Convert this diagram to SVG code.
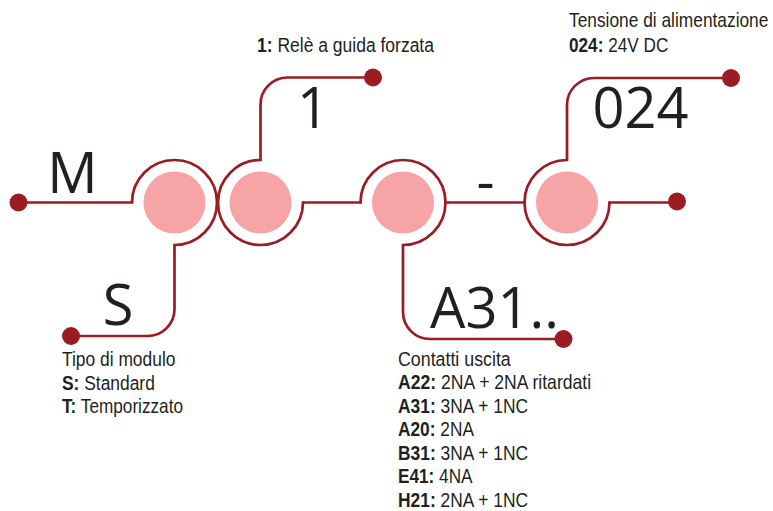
<svg xmlns="http://www.w3.org/2000/svg" width="773" height="511" viewBox="0 0 773 511">
<style>
.ln{fill:none;stroke:#9b1c23;stroke-width:2.7;stroke-linecap:round;stroke-linejoin:round}
.dot{fill:#9b1c23}
.pk{fill:#f7a4a6}
.big{font-family:"Open Sans","DejaVu Sans",sans-serif;font-size:56px;fill:#231f20}
.sm{font-family:"Liberation Sans",Arial,sans-serif;font-size:20px;fill:#231f20}
.b{font-weight:bold}
</style>
<rect width="773" height="511" fill="#ffffff"/>
<g id="connectors">
<path class="ln" d="M18.5 202.5H132"/>
<path class="ln" d="M174.5 245V309A27 27 0 0 1 147.5 336H71"/>
<path class="ln" d="M373 77.5H287.5A27 27 0 0 0 260.5 104.5V160"/>
<path class="ln" d="M303 202.5H360.5"/>
<path class="ln" d="M403 245V312A27 27 0 0 0 430 339H563.5"/>
<path class="ln" d="M445.5 202.5H524.5"/>
<path class="ln" d="M731 78H594A27 27 0 0 0 567 105V160"/>
<path class="ln" d="M609.5 202.5H677"/>
<circle class="dot" cx="18.5" cy="202.5" r="9"/>
<circle class="dot" cx="71" cy="336" r="9"/>
<circle class="dot" cx="373" cy="77.5" r="9"/>
<circle class="dot" cx="563.5" cy="339" r="9"/>
<circle class="dot" cx="677" cy="201.5" r="9"/>
<circle class="dot" cx="731" cy="78" r="9"/>
</g>
<g id="node-m">
<path class="ln" d="M132 202.5A42.5 42.5 0 1 1 174.5 245"/>
<circle class="pk" cx="174.5" cy="202.5" r="31"/>
<text class="big" x="72.5" y="193" text-anchor="middle">M</text>
<text class="big" x="118" y="325" text-anchor="middle">S</text>
<text class="sm" transform="translate(62 366) scale(0.87 1)">Tipo di modulo</text>
<text class="sm" transform="translate(62 389.6) scale(0.87 1)"><tspan class="b">S:</tspan> Standard</text>
<text class="sm" transform="translate(62 413.2) scale(0.86 1)"><tspan class="b">T:</tspan> Temporizzato</text>
</g>
<g id="node-1">
<path class="ln" d="M260.5 160A42.5 42.5 0 1 0 303 202.5"/>
<circle class="pk" cx="260.5" cy="202.5" r="31"/>
<text class="big" x="313" y="128" text-anchor="middle">1</text>
<text class="sm" transform="translate(257 51.7) scale(0.875 1)"><tspan class="b">1:</tspan> Relè a guida forzata</text>
</g>
<g id="node-a31">
<path class="ln" d="M360.5 202.5A42.5 42.5 0 1 1 403 245"/>
<circle class="pk" cx="403" cy="202.5" r="31"/>
<text class="big" x="430" y="328">A31..</text>
<text class="sm" transform="translate(398 366) scale(0.89 1)">Contatti uscita</text>
<text class="sm" transform="translate(398 389.4) scale(0.88 1)"><tspan class="b">A22:</tspan> 2NA + 2NA ritardati</text>
<text class="sm" transform="translate(398 412.8) scale(0.87 1)"><tspan class="b">A31:</tspan> 3NA + 1NC</text>
<text class="sm" transform="translate(398 436.2) scale(0.865 1)"><tspan class="b">A20:</tspan> 2NA</text>
<text class="sm" transform="translate(398 459.6) scale(0.87 1)"><tspan class="b">B31:</tspan> 3NA + 1NC</text>
<text class="sm" transform="translate(398 483) scale(0.86 1)"><tspan class="b">E41:</tspan> 4NA</text>
<text class="sm" transform="translate(398 506.5) scale(0.87 1)"><tspan class="b">H21:</tspan> 2NA + 1NC</text>
</g>
<text class="big" x="485.5" y="201" text-anchor="middle">-</text>
<g id="node-024">
<path class="ln" d="M567 160A42.5 42.5 0 1 0 609.5 202.5"/>
<circle class="pk" cx="567" cy="202.5" r="31"/>
<text class="big" x="640.5" y="128" text-anchor="middle">024</text>
<text class="sm" transform="translate(569 26.7) scale(0.867 1)">Tensione di alimentazione</text>
<text class="sm" transform="translate(569 51.7) scale(0.86 1)"><tspan class="b">024:</tspan> 24V DC</text>
</g>
</svg>
